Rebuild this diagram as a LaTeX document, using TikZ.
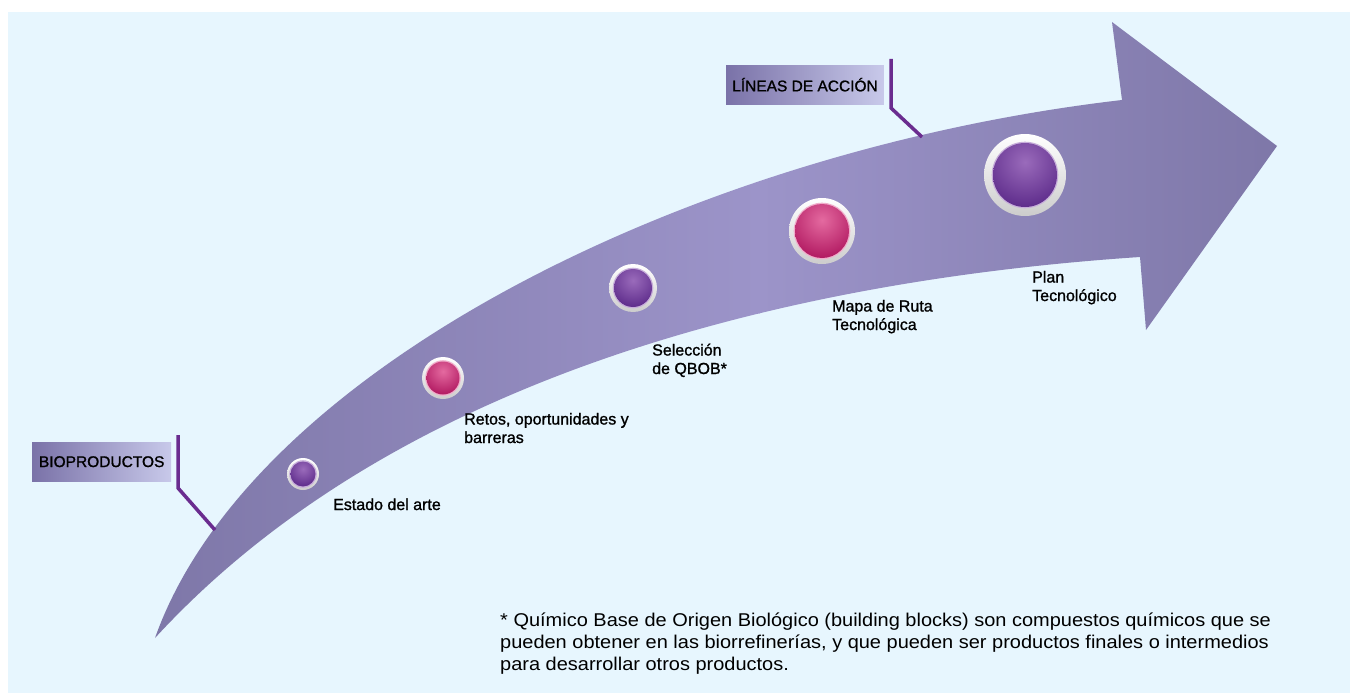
\documentclass[tikz,border=0pt]{standalone}
\usepackage{fontspec}
\setmainfont{Liberation Sans}
\newfontfamily\lblfont[FakeBold=1.2]{Liberation Sans}
\newfontfamily\footfont[FakeStretch=1.08]{Liberation Sans}
\definecolor{bgblue}{HTML}{E7F6FE}
\definecolor{arrowdark}{HTML}{7E77A8}
\definecolor{arrowlight}{HTML}{9C94C9}
\definecolor{boxdark}{HTML}{7A72A8}
\definecolor{boxlight}{HTML}{C8C9EA}
\definecolor{leader}{HTML}{6A2C8F}
\definecolor{purpin}{HTML}{9A6BBB}
\definecolor{purpout}{HTML}{5A2888}
\definecolor{pinkin}{HTML}{E46AA0}
\definecolor{pinkout}{HTML}{AE145D}
\tikzset{
  lbl/.style={font=\lblfont\fontsize{16}{18.5}\selectfont, align=left, text=black, inner sep=0pt},
  tagbox/.style={left color=boxdark, right color=boxlight, draw=none, inner xsep=6pt, inner ysep=0pt, minimum height=39pt, font=\lblfont\fontsize{15.5}{18}\selectfont, anchor=north west},
  leaderline/.style={draw=leader, line width=3.5pt},
}
\newcommand{\milestone}[5]{% x,y,outer r,inner r,color prefix
  \shade[top color=white, bottom color=black!20] (#1,#2) circle[radius=#3];
  \fill[#5in!55!white] (#1,#2) circle[radius=#4+1.3];
  \begin{scope}
    \clip (#1,#2) circle[radius=#4];
    \shade[inner color=#5in, outer color=#5out] (#1,#2-0.4*#4) circle[radius=1.5*#4];
  \end{scope}
}
\begin{document}
\begin{tikzpicture}[x=1pt,y=-1pt]
\useasboundingbox (0,0) rectangle (1350,693);
\fill[bgblue] (8,12) rectangle (1350,693);
% big arrow
\begin{scope}
\clip (155,638) .. controls (250,370) and (690,150) .. (1122,100)
  -- (1112,22) -- (1277,146) -- (1146,330) -- (1140,257)
  .. controls (750,283) and (380,393) .. (155,638) -- cycle;
\shade[left color=arrowdark, right color=arrowlight] (150,15) rectangle (760,645);
\shade[left color=arrowlight, right color=arrowdark] (759,15) rectangle (1280,645);
\end{scope}
% milestones
\milestone{303}{474}{16}{12.5}{purp}
\milestone{443}{378}{21}{16.5}{pink}
\milestone{633}{288}{24}{19}{purp}
\milestone{822}{231}{33}{27}{pink}
\milestone{1025}{175}{41}{32}{purp}
% labels
\node[lbl, anchor=base west] (l1) at (333,510) {Estado del arte};
\node[lbl, anchor=base west] (l2) at (464,443) {Retos, oportunidades y\\barreras};
\node[lbl, anchor=base west] (l3) at (652,374) {Selección\\de QBOB*};
\node[lbl, anchor=base west] (l4) at (832,330) {Mapa de Ruta\\Tecnológica};
\node[lbl, anchor=base west] (l5) at (1032,301) {Plan\\Tecnológico};
% tags
\node[tagbox, minimum width=139pt] (bio) at (32,442) {BIOPRODUCTOS};
\coordinate (b1) at (178,435);
\coordinate (b2) at (178,488);
\coordinate (b3) at (215,530);
\draw[leaderline] (b1) -- (b2) -- (b3);
\node[tagbox, minimum width=153pt] (lin) at (726,65) {LÍNEAS DE ACCIÓN};
\coordinate (a1) at (891,59);
\coordinate (a2) at (891,108);
\coordinate (a3) at (922,137);
\draw[leaderline] (a1) -- (a2) -- (a3);
% footnote
\node[font=\footfont\fontsize{18.5}{22}\selectfont, align=left, anchor=base west, inner sep=0pt] (foot) at (500,670)
 {* Químico Base de Origen Biológico (building blocks) son compuestos químicos que se\\
  pueden obtener en las biorrefinerías, y que pueden ser productos finales o intermedios\\
  para desarrollar otros productos.};
\end{tikzpicture}
\end{document}
